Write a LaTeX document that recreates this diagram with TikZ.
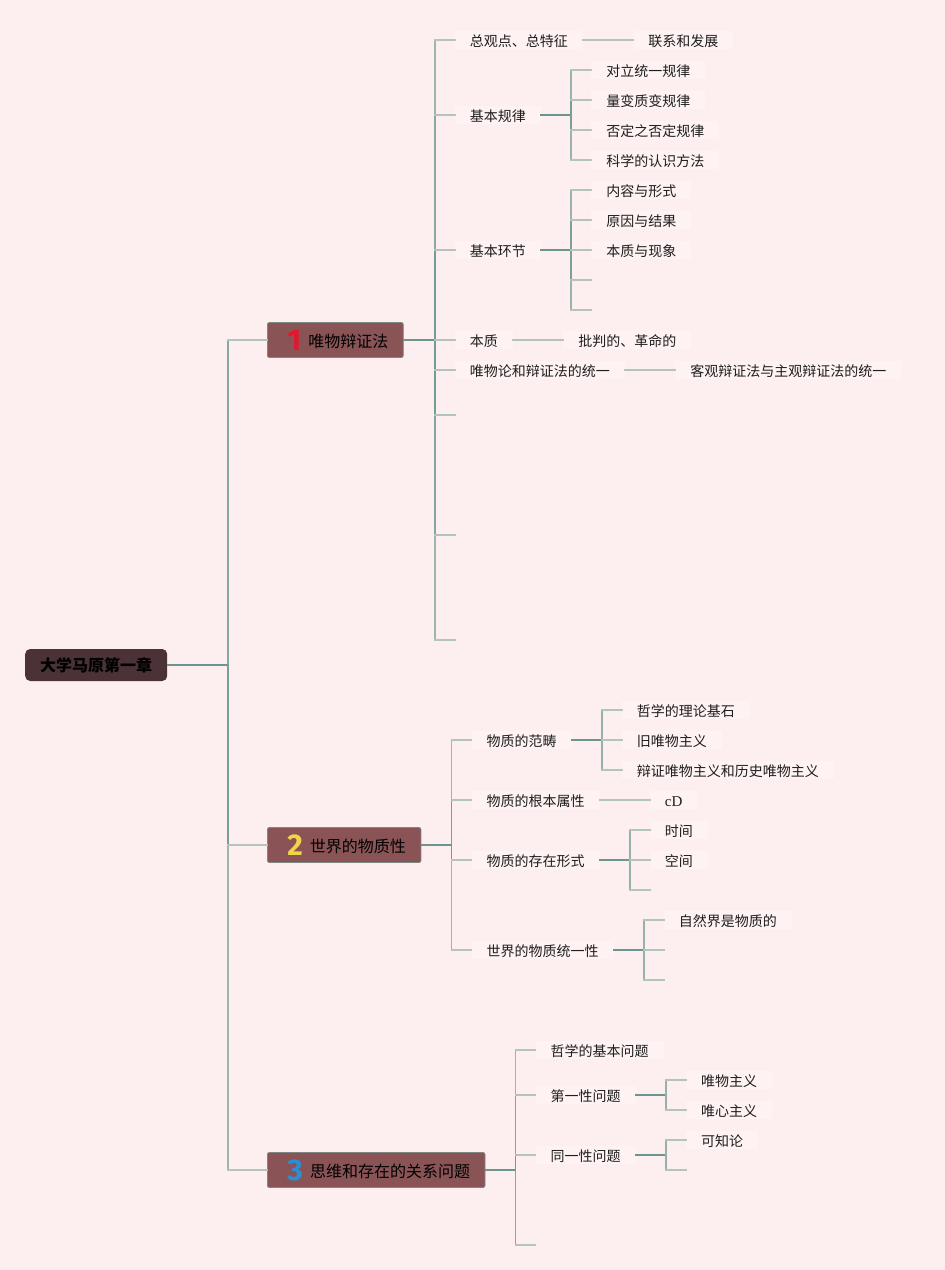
\documentclass[tikz,border=0pt]{standalone}
\usepackage{fontspec}
\newfontfamily\cjk{Noto Sans CJK SC}
\newfontfamily\numfont{Fira Sans}
\newfontfamily\serifl{Liberation Serif}
\usetikzlibrary{calc}
\definecolor{bg}{HTML}{FDEFEF}
\definecolor{boxc}{HTML}{FEF2F2}
\definecolor{dk}{HTML}{6A968E}
\definecolor{lt}{HTML}{B2C4BC}
\definecolor{rootfill}{HTML}{4A3236}
\definecolor{brfill}{HTML}{8A5457}
\definecolor{brdraw}{HTML}{7F8782}
\definecolor{nred}{HTML}{E3182D}
\definecolor{nyel}{HTML}{F2D447}
\definecolor{nblu}{HTML}{2B8FD6}
\definecolor{txt}{HTML}{1E1E1E}
\newcommand\mtwig[3]{%
  \draw[wire,dk!#3!lt] (#1) -- (#1 |- #2.west);
  \draw[wire,lt] (#1 |- #2.west) -- (#2.west);}
\newcommand\bigdigit[2]{\hspace{5pt}\raisebox{-3pt}{\numfont\bfseries\fontsize{30}{30}\selectfont\color{#1}#2}\hspace{7pt}}
\begin{document}
\begin{tikzpicture}[x=1pt,y=-1pt,
  wire/.style={line width=1.6pt, line cap=rect},
  leaf/.style={anchor=west, inner xsep=15pt, inner ysep=2pt, fill=boxc,
    font=\cjk\fontsize{14}{17}\selectfont, text=txt, text height=13pt, text depth=1pt},
  hole/.style={inner sep=0pt, minimum size=0pt, outer sep=0pt},
  rootbox/.style={anchor=west, fill=rootfill, rounded corners=5pt, minimum height=32pt,
    inner xsep=15pt, font=\cjk\bfseries\fontsize{16}{18}\selectfont, text=black,
    text height=14pt, text depth=1pt},
  branch/.style={anchor=west, fill=brfill, draw=brdraw, line width=0.8pt, rounded corners=2pt,
    minimum height=35pt, inner xsep=15pt, inner ysep=2pt,
    font=\cjk\fontsize{16}{18}\selectfont, text=black, text height=19pt, text depth=5pt},
]
\fill[bg] (0,0) rectangle (945,1270);
\useasboundingbox (0,0) rectangle (945,1270);

% root and main branches
\node[rootbox] (root) at (25,665) {大学马原第一章};
\node[branch] (b1) at (267,340) {\bigdigit{nred}{1}唯物辩证法};
\node[branch] (b2) at (267,845) {\bigdigit{nyel}{2}世界的物质性};
\node[branch] (b3) at (267,1170) {\bigdigit{nblu}{3}思维和存在的关系问题};

% ---------- branch 1 ----------
\coordinate (j1) at ($(b1.east)+(31,0)$);
\path (j1) ++(20,0) coordinate (t1);
\node[leaf] (a1) at (t1 |- 0,40) {总观点、总特征};
\node[leaf] (a2) at (t1 |- 0,115) {基本规律};
\node[leaf] (a3) at (t1 |- 0,250) {基本环节};
\node[leaf] (a4) at (t1 |- 0,340) {本质};
\node[leaf] (a5) at (t1 |- 0,370) {唯物论和辩证法的统一};
\node[hole] (a6) at (t1 |- 0,415) {};
\node[hole] (a7) at (t1 |- 0,535) {};
\node[hole] (a8) at (t1 |- 0,640) {};

\node[leaf] (c1) at ($(a1.east)+(50,0)$) {联系和发展};
\node[leaf] (c4) at ($(a4.east)+(50,0)$) {批判的、革命的};
\node[leaf] (c5) at ($(a5.east)+(50,0)$) {客观辩证法与主观辩证法的统一};

\coordinate (k2) at ($(a2.east)+(30,0)$);
\path (k2) ++(20,0) coordinate (tk2);
\node[leaf] (g1) at (tk2 |- 0,70) {对立统一规律};
\node[leaf] (g2) at (tk2 |- 0,100) {量变质变规律};
\node[leaf] (g3) at (tk2 |- 0,130) {否定之否定规律};
\node[leaf] (g4) at (tk2 |- 0,160) {科学的认识方法};

\coordinate (k3) at ($(a3.east)+(30,0)$);
\path (k3) ++(20,0) coordinate (tk3);
\node[leaf] (g5) at (tk3 |- 0,190) {内容与形式};
\node[leaf] (g6) at (tk3 |- 0,220) {原因与结果};
\node[leaf] (g7) at (tk3 |- 0,250) {本质与现象};
\node[hole] (g8) at (tk3 |- 0,280) {};
\node[hole] (g9) at (tk3 |- 0,310) {};

% ---------- branch 2 ----------
\coordinate (j2) at ($(b2.east)+(30,0)$);
\path (j2) ++(20,0) coordinate (t2);
\node[leaf] (m1) at (t2 |- 0,740) {物质的范畴};
\node[leaf] (m2) at (t2 |- 0,800) {物质的根本属性};
\node[leaf] (m3) at (t2 |- 0,860) {物质的存在形式};
\node[leaf] (m4) at (t2 |- 0,950) {世界的物质统一性};

\coordinate (k4) at ($(m1.east)+(30,0)$);
\path (k4) ++(20,0) coordinate (tk4);
\node[leaf] (p1) at (tk4 |- 0,710) {哲学的理论基石};
\node[leaf] (p2) at (tk4 |- 0,740) {旧唯物主义};
\node[leaf] (p3) at (tk4 |- 0,770) {辩证唯物主义和历史唯物主义};

\node[leaf] (cd) at ($(m2.east)+(50,0)$) {\serifl\fontsize{15}{17}\selectfont cD};

\coordinate (k5) at ($(m3.east)+(30,0)$);
\path (k5) ++(20,0) coordinate (tk5);
\node[leaf] (p4) at (tk5 |- 0,830) {时间};
\node[leaf] (p5) at (tk5 |- 0,860) {空间};
\node[hole] (p6) at (tk5 |- 0,890) {};

\coordinate (k6) at ($(m4.east)+(30,0)$);
\path (k6) ++(20,0) coordinate (tk6);
\node[leaf] (p7) at (tk6 |- 0,920) {自然界是物质的};
\node[hole] (p8) at (tk6 |- 0,950) {};
\node[hole] (p9) at (tk6 |- 0,980) {};

% ---------- branch 3 ----------
\coordinate (j3) at ($(b3.east)+(30,0)$);
\path (j3) ++(20,0) coordinate (t3);
\node[leaf] (q1) at (t3 |- 0,1050) {哲学的基本问题};
\node[leaf] (q2) at (t3 |- 0,1095) {第一性问题};
\node[leaf] (q3) at (t3 |- 0,1155) {同一性问题};
\node[hole] (q4) at (t3 |- 0,1245) {};

\coordinate (k7) at ($(q2.east)+(30,0)$);
\path (k7) ++(20,0) coordinate (tk7);
\node[leaf] (r1) at (tk7 |- 0,1080) {唯物主义};
\node[leaf] (r2) at (tk7 |- 0,1110) {唯心主义};

\coordinate (k8) at ($(q3.east)+(30,0)$);
\path (k8) ++(20,0) coordinate (tk8);
\node[leaf] (r3) at (tk8 |- 0,1140) {可知论};
\node[hole] (r4) at (tk8 |- 0,1170) {};

% ---------- connectors ----------
\coordinate (j0) at (228,665);
\draw[wire,dk] (root.east) -- (j0);
\mtwig{j0}{b3}{30}
\mtwig{j0}{b1}{62}
\mtwig{j0}{b2}{80}

\draw[wire,dk] (b1.east) -- (j1);
\mtwig{j1}{a1}{30}
\mtwig{j1}{a8}{30}
\mtwig{j1}{a2}{56}
\mtwig{j1}{a7}{65}
\mtwig{j1}{a3}{85}
\mtwig{j1}{a6}{86}
\mtwig{j1}{a5}{89}
\mtwig{j1}{a4}{90}

\draw[wire,lt] (a1.east) -- (c1.west);
\draw[wire,lt] (a4.east) -- (c4.west);
\draw[wire,lt] (a5.east) -- (c5.west);

\draw[wire,dk] (a2.east) -- (k2);
\mtwig{k2}{g1}{35}
\mtwig{k2}{g4}{35}
\mtwig{k2}{g2}{80}
\mtwig{k2}{g3}{80}

\draw[wire,dk] (a3.east) -- (k3);
\mtwig{k3}{g5}{35}
\mtwig{k3}{g9}{35}
\mtwig{k3}{g6}{75}
\mtwig{k3}{g8}{75}
\mtwig{k3}{g7}{90}

\draw[wire,dk] (b2.east) -- (j2);
\mtwig{j2}{m1}{30}
\mtwig{j2}{m4}{30}
\mtwig{j2}{m2}{79}
\mtwig{j2}{m3}{89}

\draw[wire,dk] (m1.east) -- (k4);
\mtwig{k4}{p1}{40}
\mtwig{k4}{p3}{40}
\mtwig{k4}{p2}{90}

\draw[wire,lt] (m2.east) -- (cd.west);

\draw[wire,dk] (m3.east) -- (k5);
\mtwig{k5}{p4}{40}
\mtwig{k5}{p6}{40}
\mtwig{k5}{p5}{90}

\draw[wire,dk] (m4.east) -- (k6);
\mtwig{k6}{p7}{40}
\mtwig{k6}{p9}{40}
\mtwig{k6}{p8}{90}

\draw[wire,dk] (b3.east) -- (j3);
\mtwig{j3}{q1}{30}
\mtwig{j3}{q4}{60}
\mtwig{j3}{q2}{67}
\mtwig{j3}{q3}{89}

\draw[wire,dk] (q2.east) -- (k7);
\mtwig{k7}{r1}{40}
\mtwig{k7}{r2}{40}

\draw[wire,dk] (q3.east) -- (k8);
\mtwig{k8}{r3}{40}
\mtwig{k8}{r4}{40}
\end{tikzpicture}
\end{document}
